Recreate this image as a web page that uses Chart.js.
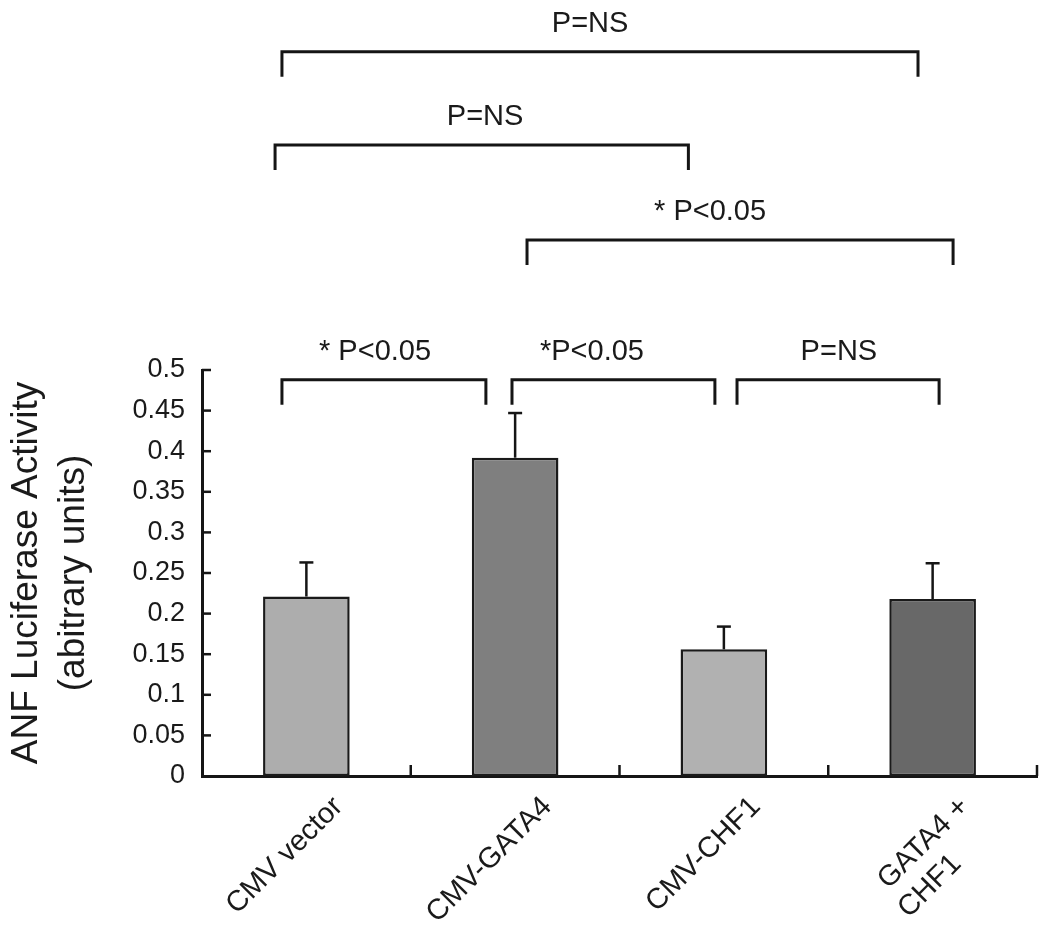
<!DOCTYPE html>
<html>
<head>
<meta charset="utf-8">
<script src="https://cdn.jsdelivr.net/npm/chart.js@4.4.1/dist/chart.umd.min.js"></script>
<style>
  html, body { margin: 0; padding: 0; background: #fff; }
  #wrap { width: 1050px; height: 944px; }
</style>
</head>
<body>
<div id="wrap"><canvas id="anfChart" width="1050" height="944"></canvas></div>
<script>
// trailing spaces keep the two lines of the last label left-aligned once rotated
const categories = ["CMV vector", "CMV-GATA4", "CMV-CHF1", ["GATA4 +", "CHF1     \u2009"]];
const means = [0.221, 0.392, 0.156, 0.218];
const errors = [0.042, 0.055, 0.028, 0.044];
const barColors = ["#adadad", "#7f7f7f", "#b1b1b1", "#686868"];
const yTicks = [0, 0.05, 0.1, 0.15, 0.2, 0.25, 0.3, 0.35, 0.4, 0.45, 0.5];

// significance brackets, ends and label anchors in category units
const bracketFrom = [-0.117, 0.985, 2.063, 1.057, -0.15, -0.117];
const bracketTo = [0.86, 1.957, 3.031, 3.098, 1.83, 2.93];
const bracketLabelAt = [0.329, 1.368, 2.551, 1.934, 0.856, 1.359];
const bracketLevel = [0.488, 0.488, 0.488, 0.66, 0.777, 0.892];
const bracketLabels = ["* P<0.05", "*P<0.05", "P=NS", "* P<0.05", "P=NS", "P=NS"];

const FONT = "'Liberation Sans', Arial, Helvetica, sans-serif";

function line(ctx, x1, y1, x2, y2) {
  ctx.beginPath();
  ctx.moveTo(x1, y1);
  ctx.lineTo(x2, y2);
  ctx.stroke();
}

const overlay = {
  id: "overlay",
  afterDatasetsDraw(chart) {
    const { ctx } = chart;
    const x = chart.scales.x;
    const y = chart.scales.y;
    ctx.save();
    ctx.strokeStyle = "#151515";
    ctx.lineCap = "butt";

    // error bars (upper only)
    ctx.lineWidth = 2.5;
    chart.getDatasetMeta(0).data.forEach((bar, i) => {
      const top = y.getPixelForValue(means[i] + errors[i]);
      line(ctx, bar.x, bar.y, bar.x, top);
      line(ctx, bar.x - 7, top, bar.x + 7, top);
    });

    // inward tick marks
    yTicks.forEach((v) => {
      if (v === 0) return;
      const py = y.getPixelForValue(v);
      line(ctx, x.left, py, x.left + 9, py);
    });
    for (let i = 0; i < categories.length; i++) {
      const px = x.getPixelForValue(i + 0.5);
      line(ctx, px, y.bottom, px, y.bottom - 11);
    }

    // brackets
    ctx.lineWidth = 3;
    ctx.fillStyle = "#1a1a1a";
    ctx.font = "29px " + FONT;
    ctx.textAlign = "center";
    ctx.textBaseline = "middle";
    bracketLabels.forEach((label, i) => {
      const x1 = x.getPixelForValue(bracketFrom[i]);
      const x2 = x.getPixelForValue(bracketTo[i]);
      const py = y.getPixelForValue(bracketLevel[i]);
      ctx.beginPath();
      ctx.moveTo(x1, py + 25);
      ctx.lineTo(x1, py);
      ctx.lineTo(x2, py);
      ctx.lineTo(x2, py + 25);
      ctx.stroke();
      ctx.fillText(label, x.getPixelForValue(bracketLabelAt[i]), py - 28);
    });
    ctx.restore();
  },
};

new Chart(document.getElementById("anfChart"), {
  type: "bar",
  data: {
    labels: categories,
    datasets: [{
      data: means,
      backgroundColor: barColors,
      borderColor: "#1a1a1a",
      borderWidth: 2.5,
      borderSkipped: false,
      barPercentage: 0.415,
      categoryPercentage: 1,
    }],
  },
  options: {
    responsive: false,
    animation: false,
    events: [],
    layout: { padding: { top: 370, right: 13, bottom: 0, left: 0 } },
    plugins: { legend: { display: false }, tooltip: { enabled: false } },
    scales: {
      x: {
        offset: true,
        grid: { display: false, drawTicks: false },
        border: { display: true, color: "#151515", width: 3 },
        ticks: {
          color: "#1a1a1a",
          font: { family: FONT, size: 29 },
          maxRotation: 45,
          minRotation: 45,
          padding: 14,
          labelOffset: 32,
          autoSkip: false,
        },
        afterFit(scale) { scale.height = 168; },
      },
      y: {
        min: 0,
        max: 0.5,
        grid: { display: false, drawTicks: false },
        border: { display: true, color: "#151515", width: 3 },
        ticks: {
          color: "#1a1a1a",
          font: { family: FONT, size: 27 },
          padding: 17,
          callback: (v) => String(Number(v.toFixed(2))),
        },
        afterBuildTicks(scale) { scale.ticks = yTicks.map((v) => ({ value: v })); },
        title: {
          display: true,
          text: ["ANF Luciferase Activity", "(abitrary units)"],
          color: "#1a1a1a",
          font: { family: FONT, size: 37, lineHeight: 1.25 },
          padding: { top: 4, bottom: 0 },
        },
        afterFit(scale) { scale.width = 202; },
      },
    },
  },
  plugins: [overlay],
});
</script>
</body>
</html>
